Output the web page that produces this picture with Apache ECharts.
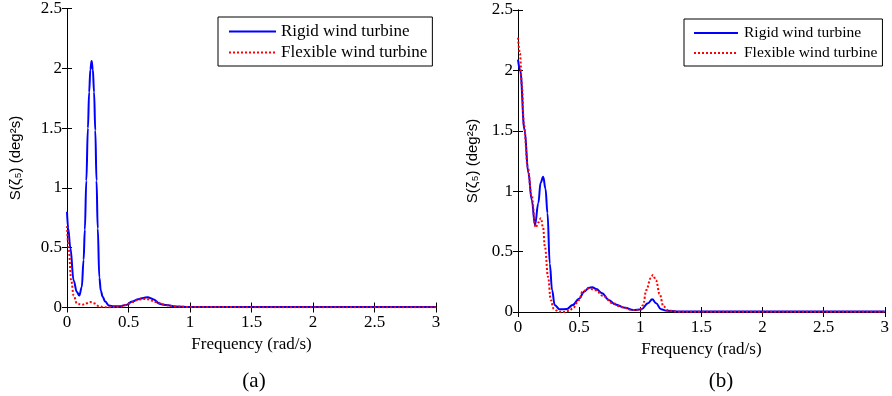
<!DOCTYPE html>
<html>
<head>
<meta charset="utf-8">
<script src="https://cdn.jsdelivr.net/npm/echarts@6/dist/echarts.min.js"></script>
<style>html,body{margin:0;padding:0;background:#fff}#c{width:892px;height:396px}</style>
</head>
<body>
<div id="c"></div>
<script>
// Panel (a)
var rigidAFreq = [0, 0.01, 0.027, 0.054, 0.08, 0.1, 0.12, 0.135, 0.145, 0.157, 0.17, 0.18, 0.19, 0.2, 0.21, 0.22, 0.23, 0.24, 0.25, 0.263, 0.275, 0.29, 0.31, 0.34, 0.38, 0.42, 0.48, 0.53, 0.58, 0.62, 0.656, 0.7, 0.756, 0.81, 0.88, 1.0, 1.5, 2.0, 2.5, 3.0];
var rigidAVal  = [0.80, 0.66, 0.50, 0.225, 0.13, 0.10, 0.17, 0.40, 0.65, 1.06, 1.50, 1.80, 1.99, 2.06, 1.99, 1.80, 1.48, 1.06, 0.66, 0.25, 0.14, 0.09, 0.05, 0.017, 0.01, 0.01, 0.02, 0.05, 0.07, 0.08, 0.086, 0.07, 0.03, 0.02, 0.008, 0.005, 0.004, 0.004, 0.004, 0.004];
var flexAFreq = [0, 0.013, 0.035, 0.054, 0.08, 0.12, 0.16, 0.19, 0.22, 0.26, 0.3, 0.35, 0.42, 0.48, 0.53, 0.58, 0.62, 0.66, 0.72, 0.8, 0.88, 1.0, 1.5, 2, 2.5, 3];
var flexAVal  = [0.68, 0.5, 0.22, 0.1, 0.035, 0.022, 0.035, 0.045, 0.035, 0.01, 0.003, 0.002, 0.005, 0.02, 0.045, 0.065, 0.072, 0.068, 0.045, 0.02, 0.008, 0.004, 0.003, 0.003, 0.003, 0.003];
// Panel (b)
var rigidBFreq = [0, 0.018, 0.053, 0.085, 0.112, 0.139, 0.166, 0.185, 0.206, 0.225, 0.241, 0.26, 0.279, 0.3, 0.34, 0.4, 0.447, 0.5, 0.541, 0.58, 0.608, 0.64, 0.688, 0.742, 0.796, 0.876, 0.943, 1.01, 1.063, 1.098, 1.13, 1.17, 1.22, 1.3, 1.5, 2, 2.5, 3];
var rigidBVal  = [2.09, 2.0, 1.51, 1.15, 0.93, 0.72, 0.9, 1.07, 1.12, 1.02, 0.82, 0.40, 0.18, 0.058, 0.022, 0.025, 0.058, 0.11, 0.168, 0.2, 0.205, 0.19, 0.155, 0.10, 0.063, 0.036, 0.017, 0.022, 0.072, 0.105, 0.072, 0.022, 0.01, 0.005, 0.004, 0.004, 0.004, 0.004];
var flexBFreq = [0, 0.016, 0.032, 0.048, 0.08, 0.11, 0.145, 0.165, 0.187, 0.205, 0.22, 0.246, 0.268, 0.29, 0.31, 0.33, 0.37, 0.42, 0.447, 0.5, 0.527, 0.58, 0.635, 0.70, 0.77, 0.85, 0.93, 1.0, 1.023, 1.05, 1.085, 1.104, 1.13, 1.158, 1.19, 1.235, 1.3, 1.5, 2, 2.5, 3];
var flexBVal  = [2.27, 2.14, 1.87, 1.55, 1.2, 0.97, 0.70, 0.74, 0.776, 0.7, 0.54, 0.29, 0.1, 0.03, 0.015, 0.003, 0.0, 0.01, 0.03, 0.1, 0.168, 0.196, 0.18, 0.13, 0.075, 0.04, 0.017, 0.017, 0.058, 0.182, 0.28, 0.306, 0.26, 0.15, 0.045, 0.01, 0.003, 0.003, 0.003, 0.003, 0.003];

var seriesNames = ['Rigid wind turbine', 'Flexible wind turbine'];
var xTicks = {min: 0, max: 3, interval: 0.5};
var yTicks = {min: 0, max: 2.5, interval: 0.5};
var xName = 'Frequency (rad/s)';
var yName = 'S(ζ₅) (deg²s)';
var panelLabels = ['(a)', '(b)'];

function pairs(f, v) { return f.map(function (x, i) { return [x, v[i]]; }); }

var serif = 'Liberation Serif, Times New Roman, serif';
var lineAx = {lineStyle: {color: '#000', width: 1}};

function xAxes(gi) {
  return [{
    type: 'value', gridIndex: gi, min: xTicks.min, max: xTicks.max, interval: xTicks.interval,
    axisLine: lineAx, axisTick: {inside: true, length: 5, lineStyle: {color: '#000'}},
    splitLine: {show: false},
    axisLabel: {color: '#000', fontFamily: serif, fontSize: 17, margin: 7},
    name: xName, nameLocation: 'middle', nameGap: 27,
    nameTextStyle: {color: '#000', fontFamily: serif, fontSize: 17}
  }, {
    type: 'value', gridIndex: gi, position: 'top', min: xTicks.min, max: xTicks.max, interval: xTicks.interval,
    axisLine: lineAx, axisTick: {inside: true, length: 5, lineStyle: {color: '#000'}},
    splitLine: {show: false}, axisLabel: {show: false}
  }];
}
function yAxes(gi, gap) {
  return [{
    type: 'value', gridIndex: gi, min: yTicks.min, max: yTicks.max, interval: yTicks.interval,
    axisLine: lineAx, axisTick: {inside: true, length: 5, lineStyle: {color: '#000'}},
    splitLine: {show: false},
    axisLabel: {color: '#000', fontFamily: serif, fontSize: 17, margin: 5},
    name: yName, nameLocation: 'middle', nameGap: gap, nameRotate: 90,
    nameTextStyle: {color: '#000', fontFamily: 'Liberation Sans, DejaVu Sans, sans-serif', fontSize: 15}
  }, {
    type: 'value', gridIndex: gi, position: 'right', min: yTicks.min, max: yTicks.max, interval: yTicks.interval,
    axisLine: lineAx, axisTick: {inside: true, length: 5, lineStyle: {color: '#000'}},
    splitLine: {show: false}, axisLabel: {show: false}
  }];
}

function mkSeries(name, data, xi, yi, dotted) {
  return {
    type: 'line', name: name, xAxisIndex: xi, yAxisIndex: yi, data: data,
    symbol: 'none', smooth: 0.4, smoothMonotone: 'x',
    lineStyle: dotted ? {color: '#ff0000', width: 2, type: [2, 2]} : {color: '#0000ff', width: 2},
    itemStyle: {color: dotted ? '#ff0000' : '#0000ff'}
  };
}

function legend(left, top, fs, pad, iw, gap) {
  return {
    data: seriesNames, orient: 'vertical', left: left, top: top,
    itemWidth: iw, itemHeight: 14, itemGap: 4, padding: pad,
    borderColor: '#000', borderWidth: 1, backgroundColor: '#fff',
    selectedMode: false,
    itemStyle: {opacity: 0},
    textStyle: {color: '#000', fontFamily: serif, fontSize: fs, padding: [0, 0, 0, gap - 5]}
  };
}

var chart = echarts.init(document.getElementById('c'));
chart.setOption({
  animation: false,
  backgroundColor: '#fff',
  grid: [
    {left: 67, top: 7.5, width: 369, height: 300},
    {left: 518, top: 10, width: 373, height: 302}
  ],
  xAxis: xAxes(0).concat(xAxes(1)),
  yAxis: yAxes(0, 44).concat(yAxes(1, 38)),
  legend: [legend(218, 17, 17, [6, 5, 5, 10], 47, 5), legend(684, 19, 15.5, [6, 5, 5, 9], 44, 6)],
  title: [
    {text: panelLabels[0], left: 249, top: 366, textAlign: 'center', textStyle: {color: '#000', fontFamily: serif, fontSize: 21, fontWeight: 'normal'}},
    {text: panelLabels[1], left: 716, top: 366, textAlign: 'center', textStyle: {color: '#000', fontFamily: serif, fontSize: 21, fontWeight: 'normal'}}
  ],
  series: [
    mkSeries(seriesNames[0], pairs(rigidAFreq, rigidAVal), 0, 0, false),
    mkSeries(seriesNames[1], pairs(flexAFreq, flexAVal), 0, 0, true),
    mkSeries(seriesNames[0], pairs(rigidBFreq, rigidBVal), 2, 2, false),
    mkSeries(seriesNames[1], pairs(flexBFreq, flexBVal), 2, 2, true)
  ]
});
</script>
</body>
</html>
